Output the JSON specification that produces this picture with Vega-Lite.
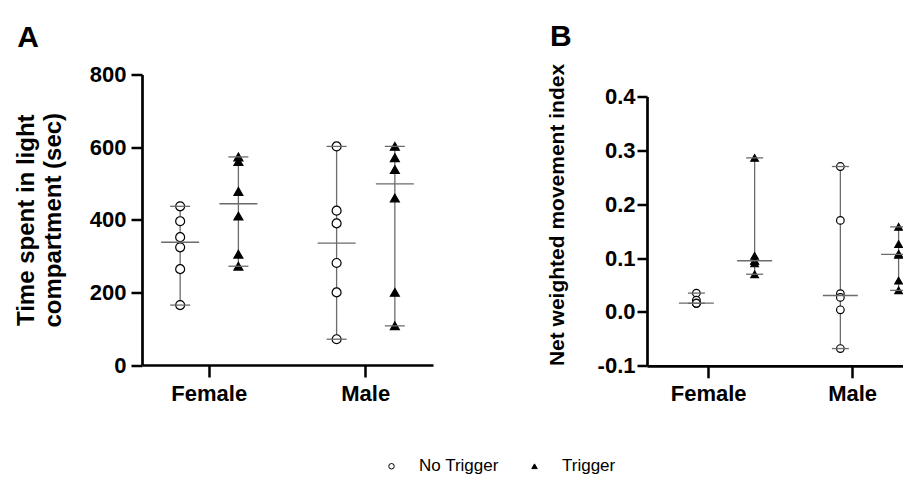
{
  "$schema": "https://vega.github.io/schema/vega-lite/v6.json",
  "padding": {"left": 14, "top": 21.5, "right": 0, "bottom": 5},
  "datasets": {
    "a": [
      {"sex": "Female", "group": "No Trigger", "value": 437},
      {"sex": "Female", "group": "No Trigger", "value": 396},
      {"sex": "Female", "group": "No Trigger", "value": 352},
      {"sex": "Female", "group": "No Trigger", "value": 324},
      {"sex": "Female", "group": "No Trigger", "value": 264},
      {"sex": "Female", "group": "No Trigger", "value": 165},
      {"sex": "Female", "group": "Trigger", "value": 573},
      {"sex": "Female", "group": "Trigger", "value": 560},
      {"sex": "Female", "group": "Trigger", "value": 478},
      {"sex": "Female", "group": "Trigger", "value": 410},
      {"sex": "Female", "group": "Trigger", "value": 305},
      {"sex": "Female", "group": "Trigger", "value": 272},
      {"sex": "Male", "group": "No Trigger", "value": 602},
      {"sex": "Male", "group": "No Trigger", "value": 425},
      {"sex": "Male", "group": "No Trigger", "value": 390},
      {"sex": "Male", "group": "No Trigger", "value": 281},
      {"sex": "Male", "group": "No Trigger", "value": 200},
      {"sex": "Male", "group": "No Trigger", "value": 71},
      {"sex": "Male", "group": "Trigger", "value": 602},
      {"sex": "Male", "group": "Trigger", "value": 571},
      {"sex": "Male", "group": "Trigger", "value": 538},
      {"sex": "Male", "group": "Trigger", "value": 460},
      {"sex": "Male", "group": "Trigger", "value": 200},
      {"sex": "Male", "group": "Trigger", "value": 108}
    ],
    "b": [
      {"sex": "Female", "group": "No Trigger", "value": 0.035},
      {"sex": "Female", "group": "No Trigger", "value": 0.022},
      {"sex": "Female", "group": "No Trigger", "value": 0.017},
      {"sex": "Female", "group": "No Trigger", "value": 0.016},
      {"sex": "Female", "group": "No Trigger", "value": 0.016},
      {"sex": "Female", "group": "No Trigger", "value": 0.016},
      {"sex": "Female", "group": "Trigger", "value": 0.286},
      {"sex": "Female", "group": "Trigger", "value": 0.104},
      {"sex": "Female", "group": "Trigger", "value": 0.095},
      {"sex": "Female", "group": "Trigger", "value": 0.095},
      {"sex": "Female", "group": "Trigger", "value": 0.090},
      {"sex": "Female", "group": "Trigger", "value": 0.070},
      {"sex": "Male", "group": "No Trigger", "value": 0.270},
      {"sex": "Male", "group": "No Trigger", "value": 0.170},
      {"sex": "Male", "group": "No Trigger", "value": 0.034},
      {"sex": "Male", "group": "No Trigger", "value": 0.027},
      {"sex": "Male", "group": "No Trigger", "value": 0.004},
      {"sex": "Male", "group": "No Trigger", "value": -0.068},
      {"sex": "Male", "group": "Trigger", "value": 0.158},
      {"sex": "Male", "group": "Trigger", "value": 0.126},
      {"sex": "Male", "group": "Trigger", "value": 0.108},
      {"sex": "Male", "group": "Trigger", "value": 0.106},
      {"sex": "Male", "group": "Trigger", "value": 0.058},
      {"sex": "Male", "group": "Trigger", "value": 0.040}
    ]
  },
  "config": {
    "font": "Liberation Sans",
    "view": {"stroke": null},
    "axis": {
      "domainColor": "black",
      "domainWidth": 2.7,
      "tickColor": "black",
      "tickWidth": 2.5,
      "tickSize": 11,
      "labelFont": "Liberation Sans",
      "labelFontSize": 22,
      "labelFontWeight": "bold",
      "labelColor": "black",
      "labelPadding": 5,
      "titleFont": "Liberation Sans",
      "titleFontSize": 24,
      "titleFontWeight": "bold",
      "titleColor": "black",
      "titlePadding": 24,
      "titleLineHeight": 27,
      "grid": false
    },
    "axisX": {"tickSize": 12, "labelPadding": 6, "labelAngle": 0},
    "legend": {
      "labelFont": "Liberation Sans",
      "labelFontSize": 17,
      "labelColor": "black",
      "labelOffset": 19,
      "columnPadding": 27,
      "symbolSize": 30,
      "symbolStrokeWidth": 1,
      "padding": 0
    }
  },
  "spacing": 113,
  "hconcat": [
    {
      "width": 291,
      "height": 290.5,
      "title": {"text": "A", "anchor": "start", "frame": "bounds", "fontSize": 30, "fontWeight": "bold", "font": "Liberation Sans", "offset": 11, "dx": 3, "color": "black"},
      "data": {"name": "a"},
      "encoding": {
        "x": {"field": "sex", "type": "nominal", "scale": {"paddingInner": 0.14, "paddingOuter": 0}, "axis": {"title": null}},
        "xOffset": {"field": "group", "type": "nominal", "scale": {"paddingInner": 0, "paddingOuter": 0.155}}
      },
      "layer": [
        {
          "mark": {"type": "rule", "color": "#6b6b6b", "strokeWidth": 1.3},
          "encoding": {
            "y": {"aggregate": "min", "field": "value", "type": "quantitative", "scale": {"domain": [0, 800]}, "title": ["Time spent in light", "compartment (sec)"], "axis": {"values": [0, 200, 400, 600, 800]}},
            "y2": {"aggregate": "max", "field": "value"}
          }
        },
        {
          "mark": {"type": "point", "filled": true, "strokeWidth": 1.2, "opacity": 1, "size": 80},
          "encoding": {
            "y": {"field": "value", "type": "quantitative", "scale": {"domain": [0, 800]}, "title": ["Time spent in light", "compartment (sec)"]},
            "shape": {"field": "group", "type": "nominal", "scale": {"domain": ["No Trigger", "Trigger"], "range": ["circle", "triangle-up"]}, "title": null, "legend": {"orient": "none", "legendX": 241, "legendY": 383, "direction": "horizontal"}},
            "fill": {"field": "group", "type": "nominal", "scale": {"domain": ["No Trigger", "Trigger"], "range": ["white", "black"]}, "title": null, "legend": {"orient": "none", "legendX": 241, "legendY": 383, "direction": "horizontal"}},
            "stroke": {"field": "group", "type": "nominal", "scale": {"domain": ["No Trigger", "Trigger"], "range": ["black", "black"]}, "title": null, "legend": {"orient": "none", "legendX": 241, "legendY": 383, "direction": "horizontal"}}
          }
        },
        {
          "mark": {"type": "tick", "color": "#6b6b6b", "thickness": 1.3, "size": 20},
          "encoding": {"y": {"aggregate": "min", "field": "value", "type": "quantitative", "scale": {"domain": [0, 800]}, "title": ["Time spent in light", "compartment (sec)"]}}
        },
        {
          "mark": {"type": "tick", "color": "#6b6b6b", "thickness": 1.3, "size": 20},
          "encoding": {"y": {"aggregate": "max", "field": "value", "type": "quantitative", "scale": {"domain": [0, 800]}, "title": ["Time spent in light", "compartment (sec)"]}}
        },
        {
          "mark": {"type": "tick", "color": "#6b6b6b", "thickness": 1.3, "size": 38},
          "encoding": {"y": {"aggregate": "median", "field": "value", "type": "quantitative", "scale": {"domain": [0, 800]}, "title": ["Time spent in light", "compartment (sec)"]}}
        }
      ]
    },
    {
      "title": {"text": "B", "anchor": "start", "frame": "bounds", "fontSize": 30, "fontWeight": "bold", "font": "Liberation Sans", "offset": 11, "dx": 4, "color": "black"},
      "bounds": "flush",
      "spacing": 21,
      "vconcat": [
        {
          "width": 256,
          "height": 1,
          "data": {"values": [{}]},
          "mark": {"type": "point", "size": 0, "opacity": 0},
          "encoding": {}
        },
        {
          "width": 256,
          "height": 269.3,
          "data": {"name": "b"},
          "encoding": {
            "x": {"field": "sex", "type": "nominal", "scale": {"paddingInner": 0.3, "paddingOuter": 0.039, "align": 1}, "axis": {"title": null}},
            "xOffset": {"field": "group", "type": "nominal", "scale": {"paddingInner": 0.098, "paddingOuter": 0}}
          },
          "layer": [
            {
              "mark": {"type": "rule", "color": "#6b6b6b", "strokeWidth": 1.3},
              "encoding": {
                "y": {"aggregate": "min", "field": "value", "type": "quantitative", "scale": {"domain": [-0.1, 0.4]}, "title": "Net weighted movement index", "axis": {"values": [-0.1, 0, 0.1, 0.2, 0.3, 0.4], "format": ".1f", "labelExpr": "replace(datum.label, '−', '-')", "titleFontSize": 21, "titlePadding": 30, "titleY": 118, "tickSize": 10, "labelPadding": 2}},
                "y2": {"aggregate": "max", "field": "value"}
              }
            },
            {
              "mark": {"type": "point", "filled": true, "strokeWidth": 1.2, "opacity": 1, "size": 58},
              "encoding": {
                "y": {"field": "value", "type": "quantitative", "scale": {"domain": [-0.1, 0.4]}, "title": "Net weighted movement index"},
                "shape": {"field": "group", "type": "nominal", "scale": {"domain": ["No Trigger", "Trigger"], "range": ["circle", "triangle-up"]}, "title": null, "legend": {"orient": "none", "legendX": 241, "legendY": 383, "direction": "horizontal"}},
                "fill": {"field": "group", "type": "nominal", "scale": {"domain": ["No Trigger", "Trigger"], "range": ["white", "black"]}, "title": null, "legend": {"orient": "none", "legendX": 241, "legendY": 383, "direction": "horizontal"}},
                "stroke": {"field": "group", "type": "nominal", "scale": {"domain": ["No Trigger", "Trigger"], "range": ["black", "black"]}, "title": null, "legend": {"orient": "none", "legendX": 241, "legendY": 383, "direction": "horizontal"}}
              }
            },
            {
              "mark": {"type": "tick", "color": "#6b6b6b", "thickness": 1.3, "size": 17},
              "encoding": {"y": {"aggregate": "min", "field": "value", "type": "quantitative", "scale": {"domain": [-0.1, 0.4]}, "title": "Net weighted movement index"}}
            },
            {
              "mark": {"type": "tick", "color": "#6b6b6b", "thickness": 1.3, "size": 17},
              "encoding": {"y": {"aggregate": "max", "field": "value", "type": "quantitative", "scale": {"domain": [-0.1, 0.4]}, "title": "Net weighted movement index"}}
            },
            {
              "mark": {"type": "tick", "color": "#6b6b6b", "thickness": 1.3, "size": 35},
              "encoding": {"y": {"aggregate": "median", "field": "value", "type": "quantitative", "scale": {"domain": [-0.1, 0.4]}, "title": "Net weighted movement index"}}
            }
          ]
        }
      ]
    }
  ]
}
